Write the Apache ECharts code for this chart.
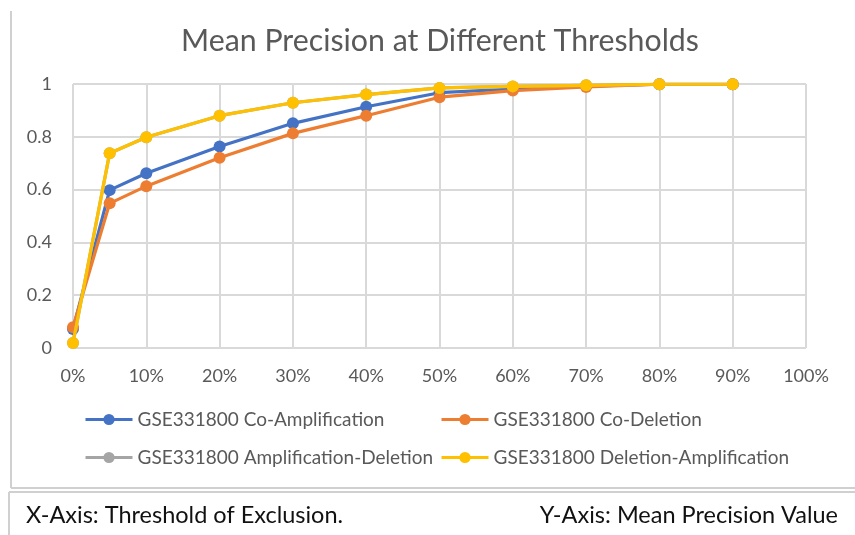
<!DOCTYPE html>
<html><head><meta charset="utf-8">
<script src="https://cdn.jsdelivr.net/npm/echarts@6/dist/echarts.min.js"></script>
<style>html,body{margin:0;padding:0;background:#fff}#c{width:855px;height:535px}</style>
</head><body><div id="c"></div>
<script>
const thresholds = [0, 5, 10, 20, 30, 40, 50, 60, 70, 80, 90];
const coAmplification = [0.072, 0.598, 0.662, 0.763, 0.851, 0.914, 0.967, 0.981, 0.992, 0.999, 0.999];
const coDeletion = [0.079, 0.548, 0.613, 0.721, 0.813, 0.880, 0.950, 0.975, 0.989, 0.999, 0.999];
const amplificationDeletion = [0.019, 0.738, 0.798, 0.880, 0.929, 0.960, 0.985, 0.991, 0.995, 0.999, 0.999];
const deletionAmplification = [0.019, 0.738, 0.798, 0.880, 0.929, 0.960, 0.985, 0.991, 0.995, 0.999, 0.999];
const seriesNames = ['GSE331800 Co-Amplification', 'GSE331800 Co-Deletion', 'GSE331800 Amplification-Deletion', 'GSE331800 Deletion-Amplification'];
const seriesValues = [coAmplification, coDeletion, amplificationDeletion, deletionAmplification];
const colors = ['#4472C4', '#ED7D31', '#A5A5A5', '#FFC000'];

const FONT = 'Lato';
const chart = echarts.init(document.getElementById('c'), null, {renderer: 'canvas'});
const legendPos = [[84, 410], [440, 410], [84, 448], [440, 448]];
chart.setOption({
  animation: false,
  backgroundColor: '#fff',
  title: {
    text: 'Mean Precision at Different Thresholds',
    left: 176, top: 21,
    textStyle: {fontFamily: FONT, fontSize: 30.3, fontWeight: 'normal', color: '#595959'}
  },
  grid: {left: 73, right: 49, top: 84, bottom: 187},
  xAxis: {
    type: 'value', min: 0, max: 100, interval: 10,
    axisLine: {show: false}, axisTick: {show: false},
    splitLine: {show: true, lineStyle: {color: '#d9d9d9', width: 2}},
    axisLabel: {formatter: '{value}%', fontFamily: FONT, fontSize: 18, color: '#595959', margin: 19}
  },
  yAxis: {
    type: 'value', min: 0, max: 1, interval: 0.2,
    axisLine: {show: false}, axisTick: {show: false},
    splitLine: {show: true, lineStyle: {color: '#d9d9d9', width: 2}},
    axisLabel: {formatter: v => (Math.round(v * 10) / 10).toString(), fontFamily: FONT, fontSize: 18, color: '#595959', margin: 21}
  },
  legend: seriesNames.map((n, i) => ({
    data: [n], left: legendPos[i][0], top: legendPos[i][1],
    itemWidth: 47, itemHeight: 14, itemGap: 2, padding: 0,
    lineStyle: {width: 3},
    textStyle: {fontFamily: FONT, fontSize: 19, color: '#595959', padding: [0, 0, 0, 0]}
  })),
  series: seriesValues.map((vals, i) => ({
    name: seriesNames[i], type: 'line',
    data: thresholds.map((t, j) => [t, vals[j]]),
    symbol: 'circle', symbolSize: 12,
    lineStyle: {width: 3.2, color: colors[i]},
    itemStyle: {color: colors[i]},
    z: 2 + i
  })),
  graphic: [
    {type: 'line', shape: {x1: 11, y1: 11, x2: 11, y2: 488}, style: {stroke: '#d0d0d0', lineWidth: 2}},
    {type: 'line', shape: {x1: 11, y1: 488, x2: 855, y2: 488}, style: {stroke: '#d0d0d0', lineWidth: 2}},
    {type: 'line', shape: {x1: 9, y1: 492, x2: 855, y2: 492}, style: {stroke: '#d0d0d0', lineWidth: 2}},
    {type: 'line', shape: {x1: 9, y1: 492, x2: 9, y2: 535}, style: {stroke: '#d0d0d0', lineWidth: 2}},
    {type: 'text', left: 26, top: 503, style: {text: 'X-Axis: Threshold of Exclusion.', fontFamily: FONT, fontSize: 23.5, fill: '#111'}},
    {type: 'text', right: 17, top: 503, style: {text: 'Y-Axis: Mean Precision Value', fontFamily: FONT, fontSize: 23.5, fill: '#111'}}
  ]
});
</script></body></html>
